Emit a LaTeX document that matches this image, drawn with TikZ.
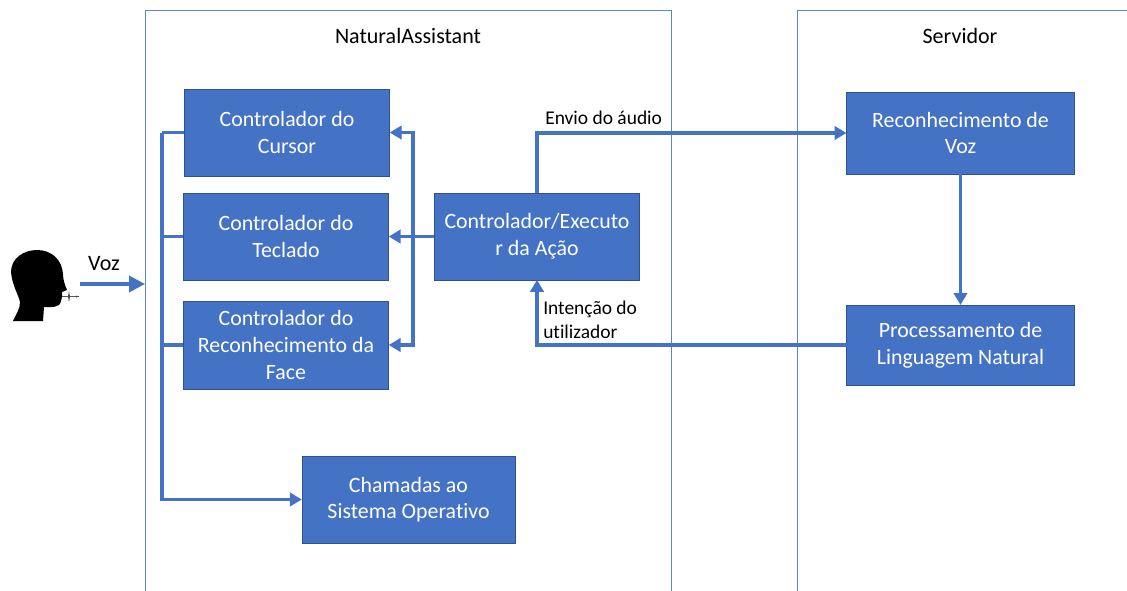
\documentclass[tikz,border=0pt]{standalone}
\usepackage{fontspec}
\setmainfont{Carlito}[Ligatures=NoCommon]
\usetikzlibrary{arrows.meta,positioning}
\definecolor{boxblue}{HTML}{4472C4}
\definecolor{boxline}{HTML}{2F528F}
\definecolor{frameline}{HTML}{5B87C5}
\tikzset{
  block/.style={draw=boxline, fill=boxblue, rectangle, text=white, align=center,
  font=\fontsize{16.4pt}{20pt}\selectfont, inner sep=0pt, outer sep=0pt,
  line width=0.5pt},
  frame/.style={draw=frameline, rectangle, line width=0.6pt, inner sep=0pt, outer sep=0pt},
  title/.style={font=\fontsize{16.5pt}{20pt}\selectfont, inner sep=0pt},
  lbl/.style={font=\fontsize{14.6pt}{18pt}\selectfont, align=left, inner sep=0pt},
  link/.style={draw=boxblue, line width=2.6pt},
  arrow/.style={link, -{Triangle[length=9pt,width=10pt]}}}

\begin{document}
\begin{tikzpicture}[x=0.75pt,y=-0.75pt]
\clip (0,0) rectangle (1127,590);

% containers, cut off by the page at the bottom and on the right
\draw (408,320) node (assistant) [frame, minimum width=394.5pt, minimum height=465pt] {};
\draw (1000,320) node (servidor) [frame, minimum width=304.5pt, minimum height=465pt] {};
\draw (408,36) node (assistanttitle) [title] {NaturalAssistant};
\draw (960,36) node (servidortitle) [title] {Servidor};

% boxes
\draw (287,132.5) node (cursor) [block, minimum width=154pt, minimum height=65pt] {Controlador do\\Cursor};
\draw (286,236.5) node (teclado) [block, minimum width=154pt, minimum height=65pt] {Controlador do\\Teclado};
\draw (286,345) node (face) [block, minimum width=154pt, minimum height=66pt] {Controlador do\\Reconhecimento da\\Face};
\draw (408.5,499.5) node (chamadas) [block, minimum width=160pt, minimum height=65pt] {Chamadas ao\\Sistema Operativo};
\draw (537,236.5) node (executor) [block, minimum width=154pt, minimum height=65pt] {Controlador/Executo\\r da Ação};
\draw (960.5,133) node (voz) [block, minimum width=171pt, minimum height=61.5pt] {Reconhecimento de\\Voz};
\draw (960.5,345) node (pln) [block, minimum width=171pt, minimum height=60pt] {Processamento de\\Linguagem Natural};

% head
\fill[black] (13,321) .. controls (17,312) and (20,309) .. (20,302)
  .. controls (19,296) and (12,285) .. (11,272)
  .. controls (11,258) and (24,250) .. (37,250)
  .. controls (52,250) and (62,260) .. (63,274)
  .. controls (63,280) and (65,285) .. (67,290)
  -- (62,292) -- (62,297) -- (61,301)
  .. controls (60,308) and (52,307) .. (44,307)
  -- (43,321) -- cycle;
\coordinate (wavel) at (62,296.5);
\coordinate (waver) at (79,296.5);
\draw[gray!70!black, line width=0.5pt] (wavel) -- (waver);
\fill[gray!60!black] (69,291) -- (70,296.5) -- (69,302) -- (68,296.5) -- cycle;
\fill[gray!60!black] (76,295.5) -- (79,296.5) -- (76,297.5) -- cycle;

% voice input
\coordinate (vozstart) at (80,284);
\draw [link, -{Triangle[length=12pt,width=12pt]}] (vozstart) -- (vozstart -| assistant.west);
\draw (104,264) node (vozlabel) [title] {Voz};

% left bus
\coordinate (busl) at (162,132.5);
\draw [link] (cursor.west) -- (busl);
\draw [arrow] (busl) |- (chamadas.west);
\draw [link] (teclado.west) -- (teclado.west -| busl);
\draw [link] (face.west) -- (face.west -| busl);

% right bus
\coordinate (busr) at (413,132.5);
\draw [arrow] (executor.west) -- (teclado.east);
\draw [arrow] (busr |- executor.west) |- (cursor.east);
\draw [arrow] (busr |- executor.west) |- (face.east);

% server links
\draw [arrow] (executor.north) |- (voz.west);
\draw [arrow] (voz.south) -- (voz.south |- pln.north);
\draw [arrow] (pln.west) -| (executor.south);

\draw (545,118) node (enviolabel) [lbl, anchor=west] {Envio do áudio};
\draw (543,320) node (intencaolabel) [lbl, anchor=west] {Intenção do\\utilizador};

\end{tikzpicture}
\end{document}
